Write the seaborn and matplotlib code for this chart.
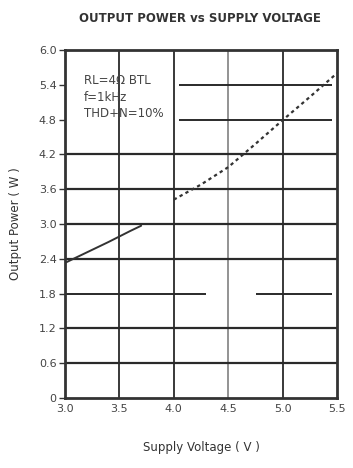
import matplotlib
matplotlib.use("Agg")
import matplotlib.pyplot as plt
import seaborn as sns
import pandas as pd
import numpy as np

# ---- data ----
seg1_voltage = [3.0, 3.2, 3.4, 3.6, 3.7]
seg1_power = [2.33, 2.51, 2.69, 2.88, 2.97]
seg2_voltage = [4.0, 4.25, 4.5, 4.75, 5.0, 5.25, 5.5]
seg2_power = [3.42, 3.68, 3.98, 4.38, 4.79, 5.19, 5.6]

x_ticks = [3.0, 3.5, 4.0, 4.5, 5.0, 5.5]
x_tick_labels = ["3.0", "3.5", "4.0", "4.5", "5.0", "5.5"]
y_ticks = [0, 0.6, 1.2, 1.8, 2.4, 3.0, 3.6, 4.2, 4.8, 5.4, 6.0]
y_tick_labels = ["0", "0.6", "1.2", "1.8", "2.4", "3.0", "3.6", "4.2", "4.8", "5.4", "6.0"]

title = "OUTPUT POWER vs SUPPLY VOLTAGE"
x_label = "Supply Voltage ( V )"
y_label = "Output Power ( W )"
note_lines = ["RL=4Ω BTL", "f=1kHz", "THD+N=10%"]

sns.set_style("white")
plt.rcParams["font.family"] = ["DejaVu Sans"]

df1 = pd.DataFrame({"v": seg1_voltage, "p": seg1_power})
df2 = pd.DataFrame({"v": seg2_voltage, "p": seg2_power})

fig = plt.figure(figsize=(3.53, 4.68), dpi=100)
ax = fig.add_axes([65 / 353, (468 - 398) / 468, 272 / 353, 348 / 468])

ax.set_xlim(3.0, 5.5)
ax.set_ylim(0, 6.0)

grid_col = "#2a2a2a"
# vertical grid lines
for xv in x_ticks[1:-1]:
    col = "#8a8a8a" if xv == 4.5 else grid_col
    ax.axvline(xv, color=col, lw=1.3, zorder=1)
# horizontal grid lines
for yv in y_ticks[1:-1]:
    if yv in (5.4, 4.8):
        ax.hlines(yv, 4.05, 5.45, color=grid_col, lw=1.4, zorder=1)
    elif yv == 1.8:
        ax.hlines(yv, 3.0, 4.3, color=grid_col, lw=1.4, zorder=1)
        ax.hlines(yv, 4.76, 5.45, color=grid_col, lw=1.4, zorder=1)
    else:
        ax.axhline(yv, color=grid_col, lw=1.6, zorder=1)

sns.lineplot(data=df1, x="v", y="p", ax=ax, color="#333333", lw=1.4, zorder=3)
sns.lineplot(data=df2, x="v", y="p", ax=ax, color="#333333", lw=1.6,
             linestyle=(0, (1.5, 1.5)), zorder=3)

for s in ax.spines.values():
    s.set_color("#333333")
    s.set_linewidth(2)

ax.set_xticks(x_ticks)
ax.set_xticklabels(x_tick_labels)
ax.set_yticks(y_ticks)
ax.set_yticklabels(y_tick_labels)
ax.tick_params(axis="y", length=4, width=1, color="#333333", labelsize=8,
               labelcolor="#444444", pad=2, left=True)
ax.tick_params(axis="x", length=0, labelsize=8, labelcolor="#444444", pad=4)

ax.set_xlabel(x_label, fontsize=8.5, color="#333333", labelpad=20)
ax.set_ylabel(y_label, fontsize=8.5, color="#333333", labelpad=12)

fig.text(200 / 353, 1 - 18 / 468, title, ha="center", va="center",
         fontsize=8.5, fontweight="bold", color="#333333")

ax.text(0.07, 0.93, "\n".join(note_lines), transform=ax.transAxes,
        ha="left", va="top", fontsize=8.5, color="#444444", linespacing=1.35)

fig.savefig("out.png", dpi=100)
